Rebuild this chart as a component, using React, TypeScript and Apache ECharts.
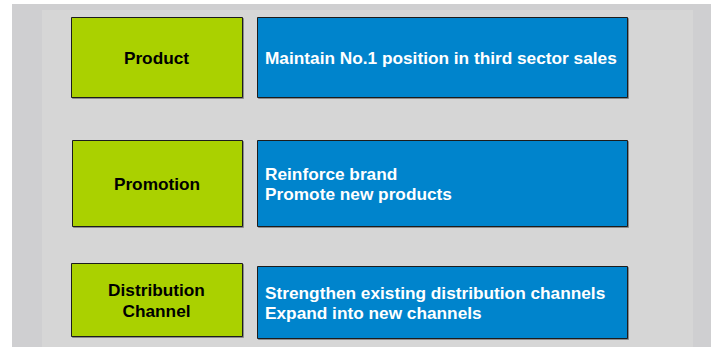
import React, { useEffect, useRef } from "react";
import * as echarts from "echarts";

const categories: string[][] = [["Product"], ["Promotion"], ["Distribution", "Channel"]];
const strategies: string[][] = [
  ["Maintain No.1 position in third sector sales"],
  ["Reinforce brand", "Promote new products"],
  ["Strengthen existing distribution channels", "Expand into new channels"],
];

const greenBoxes = [
  { x: 71, y: 17, w: 171, h: 80 },
  { x: 72, y: 140, w: 170, h: 86 },
  { x: 71, y: 263, w: 171, h: 73 },
];
const blueBoxes = [
  { x: 257, y: 17, w: 370, h: 80 },
  { x: 257, y: 140, w: 370, h: 86 },
  { x: 257, y: 266, w: 370, h: 72 },
];

const FONT = "'Liberation Sans', Arial, Helvetica, sans-serif";

export default function App() {
  const ref = useRef<HTMLDivElement>(null);
  useEffect(() => {
    if (!ref.current) return;
    const chart = echarts.init(ref.current, null, { renderer: "svg" });
    const elements: any[] = [
      { type: "rect", shape: { x: 12, y: 4, width: 699, height: 343 }, style: { fill: "#cfcfd1" }, silent: true },
      { type: "rect", shape: { x: 42, y: 10, width: 651, height: 337 }, style: { fill: "#d6d6d6" }, silent: true },
    ];
    const boxStyle = (fill: string) => ({
      fill,
      stroke: "#1a1a1a",
      lineWidth: 1,
      shadowColor: "rgba(0,0,0,0.35)",
      shadowOffsetX: 1,
      shadowOffsetY: 1,
      shadowBlur: 1,
    });
    greenBoxes.forEach((b, i) => {
      elements.push({ type: "rect", shape: { x: b.x + 0.5, y: b.y + 0.5, width: b.w, height: b.h }, style: boxStyle("#aad100") });
      elements.push({
        type: "text",
        style: {
          text: categories[i].join("\n"),
          x: b.x + b.w / 2,
          y: b.y + b.h / 2 + 1,
          align: "center",
          verticalAlign: "middle",
          fill: "#000000",
          fontSize: 17.25,
          fontWeight: "bold",
          fontFamily: FONT,
          lineHeight: 21,
        },
      });
    });
    blueBoxes.forEach((b, i) => {
      elements.push({ type: "rect", shape: { x: b.x + 0.5, y: b.y + 0.5, width: b.w, height: b.h }, style: boxStyle("#0084cc") });
      elements.push({
        type: "text",
        style: {
          text: strategies[i].join("\n"),
          x: b.x + 8,
          y: b.y + b.h / 2 + 1,
          align: "left",
          verticalAlign: "middle",
          fill: "#ffffff",
          fontSize: 17.25,
          fontWeight: "bold",
          fontFamily: FONT,
          lineHeight: 20,
        },
      });
    });
    chart.setOption({ animation: false, graphic: { elements } });
    return () => chart.dispose();
  }, []);
  return (
    <div
      ref={ref}
      style={{ position: "fixed", left: 0, top: 0, width: 711, height: 347, background: "#ffffff" }}
    />
  );
}
